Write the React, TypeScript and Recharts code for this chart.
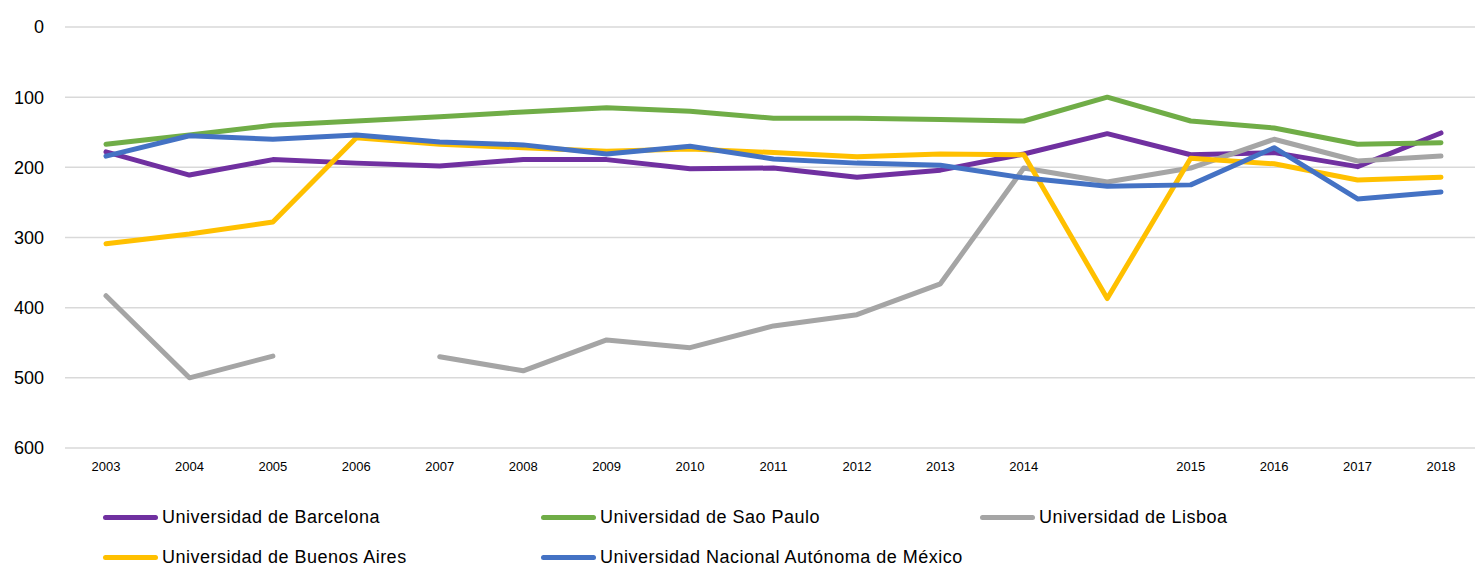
import { LineChart, Line, XAxis, YAxis, CartesianGrid } from 'recharts';

const years = ['2003', '2004', '2005', '2006', '2007', '2008', '2009', '2010', '2011', '2012', '2013', '2014', '', '2015', '2016', '2017', '2018'];

const barcelona = [178, 211, 189, 194, 198, 189, 189, 202, 201, 214, 204, 181, 152, 182, 179, 199, 151];
const saoPaulo = [167, 154, 140, 134, 128, 121, 115, 120, 130, 130, 132, 134, 100, 134, 144, 167, 165];
const lisboa = [383, 500, 469, null, 470, 490, 446, 457, 426, 410, 366, 201, 221, 201, 160, 191, 184];
const buenosAires = [309, 295, 278, 158, 167, 172, 177, 174, 179, 185, 181, 182, 387, 187, 195, 218, 214];
const unam = [184, 155, 160, 154, 164, 168, 181, 170, 188, 194, 197, 215, 227, 225, 172, 245, 235];

const yTicks = [0, 100, 200, 300, 400, 500, 600];

const series = [
  { key: 'barcelona', name: 'Universidad de Barcelona', color: '#7030a0' },
  { key: 'saoPaulo', name: 'Universidad de Sao Paulo', color: '#70ad47' },
  { key: 'lisboa', name: 'Universidad de Lisboa', color: '#a5a5a5' },
  { key: 'buenosAires', name: 'Universidad de Buenos Aires', color: '#ffc000' },
  { key: 'unam', name: 'Universidad Nacional Autónoma de México', color: '#4472c4' },
];

const data = years.map((year, i) => ({
  idx: i,
  year,
  barcelona: barcelona[i],
  saoPaulo: saoPaulo[i],
  lisboa: lisboa[i],
  buenosAires: buenosAires[i],
  unam: unam[i],
}));

const legendPos = [
  { left: 103, top: 505 },
  { left: 541, top: 505 },
  { left: 980, top: 505 },
  { left: 103, top: 545 },
  { left: 541, top: 545 },
];

export default function App() {
  return (
    <div style={{ position: 'absolute', left: 0, top: 0, width: 1476, height: 566, background: '#fff', fontFamily: '"Liberation Sans", Arial, sans-serif' }}>
      <LineChart width={1476} height={490} data={data} margin={{ top: 27, right: 1, left: 0, bottom: 12 }}>
        <CartesianGrid vertical={false} stroke="#d9d9d9" strokeWidth={1.5} />
        <XAxis
          dataKey="idx"
          padding={{ left: 41, right: 34 }}
          tickFormatter={(v: number) => years[v]}
          axisLine={false}
          tickLine={false}
          tickMargin={8}
          height={30}
          interval={0}
          tick={{ fill: '#000', fontSize: 13 }}
        />
        <YAxis
          reversed
          domain={[0, 600]}
          ticks={yTicks}
          width={65}
          axisLine={false}
          tickLine={false}
          tickMargin={15}
          tick={{ fill: '#000', fontSize: 18 }}
        />
        {series.map((s) => (
          <Line
            key={s.key}
            type="linear"
            dataKey={s.key}
            name={s.name}
            stroke={s.color}
            strokeWidth={5}
            dot={false}
            strokeLinecap="round"
            strokeLinejoin="round"
            isAnimationActive={false}
          />
        ))}
      </LineChart>
      {series.map((s, i) => (
        <div
          key={s.key}
          style={{ position: 'absolute', left: legendPos[i].left, top: legendPos[i].top, height: 24, display: 'flex', alignItems: 'center', whiteSpace: 'nowrap' }}
        >
          <div style={{ width: 55, height: 5, borderRadius: 3, background: s.color, marginRight: 4 }} />
          <span style={{ fontSize: 18, letterSpacing: 0.5, color: '#000' }}>{s.name}</span>
        </div>
      ))}
    </div>
  );
}
